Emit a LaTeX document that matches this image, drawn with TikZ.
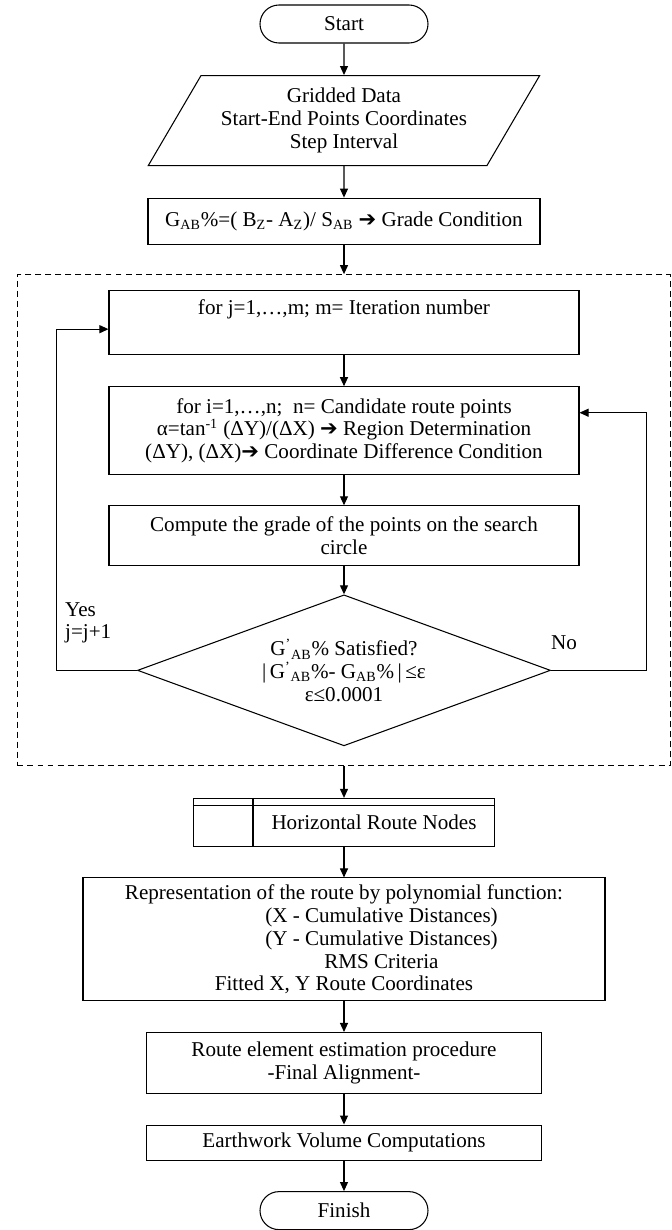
\documentclass[tikz,border=0pt]{standalone}
\usepackage{fontspec}
\setmainfont{Liberation Serif}
\newfontfamily\dingfont{DejaVu Sans}
\usetikzlibrary{arrows.meta, positioning, fit, calc, shapes.geometric}

\newcommand{\hvarrow}{{\dingfont ➔}}

\begin{document}
\begin{tikzpicture}[
  node distance=0.61cm,
  font=\fontsize{12}{13}\selectfont,
  box/.style={draw, align=center, line width=0.6pt, inner sep=2pt},
  term/.style={box, rounded corners=0.38cm, minimum width=3.36cm, minimum height=0.76cm},
  io/.style={box, trapezium, trapezium left angle=57, trapezium right angle=123,
             trapezium stretches=true, minimum width=7.84cm, minimum height=1.8cm},
  proc/.style={box},
  decision/.style={box, diamond, aspect=2.73, minimum width=8.26cm,
                   minimum height=3.02cm, inner sep=0pt},
  ar/.style={-{Triangle[length=1.8mm, width=1.6mm]}, line width=0.6pt}
]
\useasboundingbox (-6.88,0.48) rectangle (6.54,-24.12);

\node[term] (start) at (0,0) {Start};
\node[io, below=0.63cm of start] (input) {Gridded Data\\Start-End Points Coordinates\\Step Interval};
\node[proc, below=0.63cm of input, minimum width=7.84cm, minimum height=0.92cm] (grade)
  {G\textsubscript{AB}\%=( B\textsubscript{Z}- A\textsubscript{Z})/ S\textsubscript{AB} \hvarrow{} Grade Condition};

% iteration loop, framed by the dashed box below
\node[proc, below=0.9cm of grade, minimum width=9.4cm, minimum height=1.28cm] (iterj)
  {for j=1,…,m; m= Iteration number\\\strut};
\node[proc, below=0.63cm of iterj, minimum width=9.4cm, minimum height=1.76cm] (candi)
  {for i=1,…,n;\ \ n= Candidate route points\\
   α=tan\textsuperscript{-1} (ΔY)/(ΔX) \hvarrow{} Region Determination\\
   (ΔY), (ΔX)\hvarrow{} Coordinate Difference Condition};
\node[proc, below=0.6cm of candi, minimum width=9.4cm, minimum height=1.2cm] (grdpts)
  {Compute the grade of the points on the search\\circle};
\node[decision, below=0.56cm of grdpts] (check)
  {G\textsuperscript{'}\textsubscript{AB}\% Satisfied?\\
   |\,G\textsuperscript{'}\textsubscript{AB}\%- G\textsubscript{AB}\%\,|\,≤ε\\
   ε≤0.0001};
\node[draw, dash pattern=on 3.4pt off 2.3pt, line width=0.6pt, fit=(iterj)(check),
      inner xsep=1.82cm, inner ysep=0.34cm, yshift=-0.04cm] (frame) {};

% stored-data box: left column and top strip drawn from its corners
\node[proc, below=1.03cm of check, minimum width=6.02cm, minimum height=0.96cm] (routenodes)
  {\hspace*{1.2cm}Horizontal Route Nodes};
\draw[line width=0.6pt] ([xshift=1.2cm]routenodes.north west) -- ([xshift=1.2cm]routenodes.south west);
\draw[line width=0.6pt] ([yshift=-0.16cm]routenodes.north west) -- ([yshift=-0.16cm]routenodes.north east);

\node[proc, below=of routenodes, minimum width=10.44cm, minimum height=2.46cm] (poly)
  {Representation of the route by polynomial function:\\
   \hspace*{1.5cm}(X - Cumulative Distances)\\
   \hspace*{1.5cm}(Y - Cumulative Distances)\\
   \hspace*{1.5cm}RMS Criteria\\
   Fitted X, Y Route Coordinates};
\node[proc, below=of poly, minimum width=7.9cm, minimum height=1.22cm] (elem)
  {Route element estimation procedure\\-Final Alignment-};
\node[proc, below=of elem, minimum width=7.9cm, minimum height=0.7cm] (earth)
  {Earthwork Volume Computations};
\node[term, below=of earth] (finish) {Finish};

\draw[ar] (start) -- (input);
\draw[ar] (input) -- (grade);
\draw[ar] (grade.south) -- (grade.south |- frame.north);
\draw[ar] (iterj) -- (candi);
\draw[ar] (candi) -- (grdpts);
\draw[ar] (grdpts) -- (check);
\draw[ar] (check.west) -- ++(-1.6,0) |- ([yshift=-0.14cm]iterj.west);
\draw[ar] (check.east) -- ++(1.9,0) |- ([yshift=0.36cm]candi.east);
\draw[ar] (frame.south -| routenodes.north) -- (routenodes.north);
\draw[ar] (routenodes) -- (poly);
\draw[ar] (poly) -- (elem);
\draw[ar] (elem) -- (earth);
\draw[ar] (earth) -- (finish);

\node[anchor=west, align=left] (yes) at ($(check.west)+(-1.56,0.95)$) {Yes\\j=j+1};
\node (no) at ($(check.east)+(0.26,0.55)$) {No};
\end{tikzpicture}
\end{document}
